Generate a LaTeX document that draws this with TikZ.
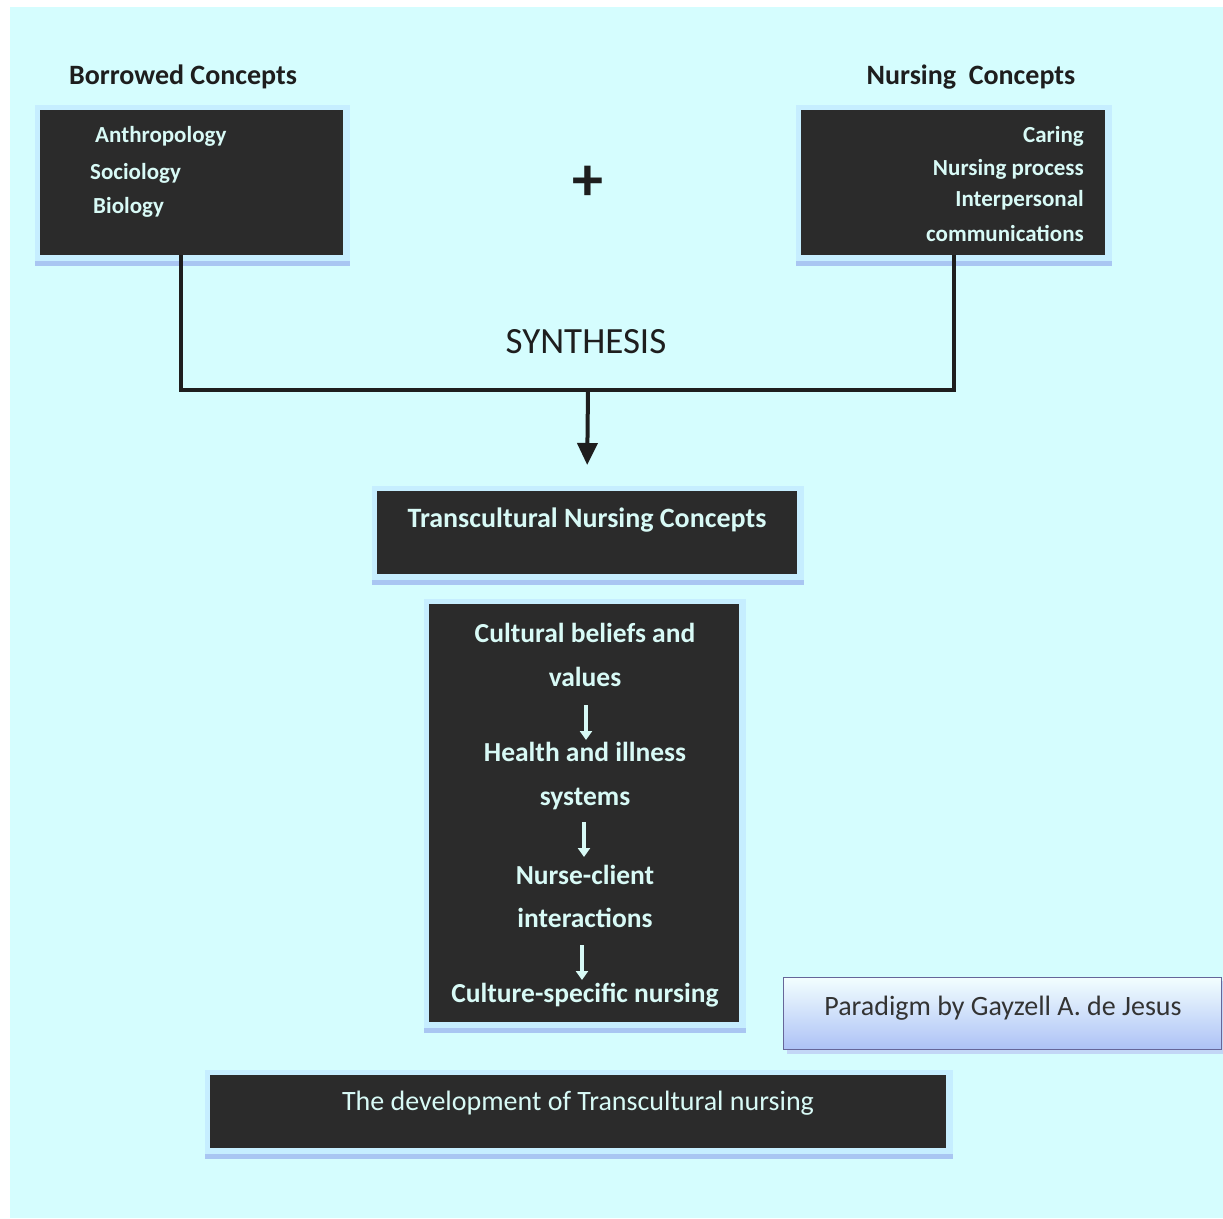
\documentclass[tikz,border=0pt]{standalone}
\usepackage{fontspec}
\setmainfont{Carlito}
\usetikzlibrary{arrows.meta}
\definecolor{bgc}{HTML}{D5FDFE}
\definecolor{boxc}{HTML}{2B2B2B}
\definecolor{txtc}{HTML}{D8FAF6}
\definecolor{glowc}{HTML}{C6EEFF}
\definecolor{shadc}{HTML}{A9C6F2}
\definecolor{linec}{HTML}{1E1E1E}
\tikzset{
  darkbox/.style={draw=none, fill=boxc, anchor=north west, inner sep=0pt},
  intext/.style={text=txtc, font=\bfseries\fontsize{23}{26}\selectfont, inner sep=0pt},
  midtext/.style={text=txtc, font=\bfseries\fontsize{27.5}{30}\selectfont, inner sep=0pt},
  headtext/.style={text=linec, font=\bfseries\fontsize{28}{30}\selectfont, inner sep=0pt},
  conn/.style={draw=linec, line width=4pt},
  warrow/.style={draw=txtc, line width=4pt, -{Triangle[width=12pt,length=9pt]}},
}
\newcommand{\glowbox}[4]{% x1 y1 x2 y2
  \fill[glowc] (#1-5,#2-5) rectangle (#3+7,#4+8);
  \fill[shadc] (#1-5,#4+6) rectangle (#3+7,#4+11);
}
\begin{document}
\begin{tikzpicture}[x=1pt,y=-1pt]
\useasboundingbox (0,0) rectangle (1223,1218);
\fill[white] (0,0) rectangle (1223,1218);
\fill[bgc] (10,7) rectangle (1223,1218);

% headings
\node[headtext] (bh) at (183,77) {Borrowed Concepts};
\node[headtext] (nh) at (971,77) {Nursing\ \ Concepts};

% left box
\glowbox{40}{110}{343}{255}
\node[darkbox, minimum width=303pt, minimum height=145pt] (lb) at (40,110) {};
\node[intext, anchor=west] (l1) at (95,136) {Anthropology};
\node[intext, anchor=west] (l2) at (90,173) {Sociology};
\node[intext, anchor=west] (l3) at (93,207) {Biology};

% plus
\node[text=linec, font=\bfseries\fontsize{62}{64}\selectfont, inner sep=0pt] (plus) at (588,183) {+};

% right box
\glowbox{801}{110}{1105}{255}
\node[darkbox, minimum width=304pt, minimum height=145pt] (rb) at (801,110) {};
\node[intext, anchor=east] (r1) at (1084,136) {Caring};
\node[intext, anchor=east] (r2) at (1084,169) {Nursing process};
\node[intext, anchor=east] (r3) at (1084,200) {Interpersonal};
\node[intext, anchor=east] (r4) at (1084,233) {communications};

% synthesis
\node[text=linec, font=\fontsize{37}{40}\selectfont, inner sep=0pt] (syn) at (586,342) {SYNTHESIS};

% transcultural box
\glowbox{377}{491}{797}{574}
\node[darkbox, minimum width=420pt, minimum height=83pt] (tc) at (377,491) {};
\node[midtext, font=\bfseries\fontsize{28}{30}\selectfont] (tct) at (587,520) {Transcultural Nursing Concepts};

% connectors
\coordinate (j) at (588,390);
\draw[conn] ([xshift=-10.5pt]lb.south) |- (j) -| ([xshift=1pt]rb.south);
\draw[conn, -{Triangle[width=20pt,length=22pt]}] (j) -- ([yshift=26pt]tc.north);

% middle box
\glowbox{429}{604}{739}{1022}
\node[darkbox, minimum width=310pt, minimum height=418pt] (mb) at (429,604) {};
\node[midtext] (m1) at (585,633) {Cultural beliefs and};
\node[midtext] (m2) at (585,677) {values};
\node[midtext] (m3) at (585,752) {Health and illness};
\node[midtext] (m4) at (585,799) {systems};
\node[midtext] (m5) at (585,875) {Nurse-client};
\node[midtext] (m6) at (585,918) {interactions};
\node[midtext] (m7) at (585,995) {Culture-specific nursing};
\coordinate (a1s) at (586,705); \coordinate (a1e) at (586,740);
\coordinate (a2s) at (584,822); \coordinate (a2e) at (584,857);
\coordinate (a3s) at (582,945); \coordinate (a3e) at (582,980);
\draw[warrow] (a1s) -- (a1e);
\draw[warrow] (a2s) -- (a2e);
\draw[warrow] (a3s) -- (a3e);

% paradigm box
\fill[shadc!70] (787,981) rectangle (1223,1054);
\node[anchor=north west, inner sep=0pt, minimum width=438pt, minimum height=72pt,
  top color=white!70!bgc, bottom color=shadc!90!blue!80!white, draw=gray!80!blue, line width=1pt] (pb) at (783,977) {};
\node[text=black!80, font=\fontsize{28}{30}\selectfont, inner sep=0pt] (pbt) at (1003,1008) {Paradigm by Gayzell A. de Jesus};

% bottom box
\glowbox{210}{1075}{946}{1148}
\node[darkbox, minimum width=736pt, minimum height=73pt] (bb) at (210,1075) {};
\node[text=txtc, font=\fontsize{28}{30}\selectfont, inner sep=0pt] (bbt) at (578,1103) {The development of Transcultural nursing};
\end{tikzpicture}
\end{document}
